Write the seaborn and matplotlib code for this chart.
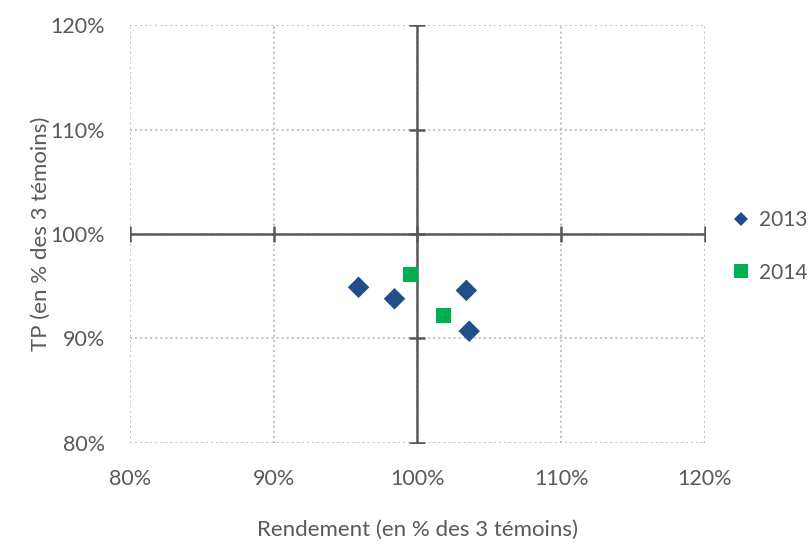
import pandas as pd
import matplotlib.pyplot as plt
import seaborn as sns
import numpy as np
from matplotlib.ticker import PercentFormatter

# values (in % of the 3 controls)
rend_2013 = [95.9, 98.4, 103.4, 103.6]
tp_2013 = [94.9, 93.8, 94.6, 90.7]
rend_2014 = [99.5, 101.8]
tp_2014 = [96.1, 92.2]
ticks = [80, 90, 100, 110, 120]

df = pd.DataFrame({
    "rendement": rend_2013 + rend_2014,
    "tp": tp_2013 + tp_2014,
    "annee": ["2013"] * len(rend_2013) + ["2014"] * len(rend_2014),
})

sns.set_theme(style="white")
plt.rcParams["font.family"] = ["Lato", "DejaVu Sans"]
grey = "#595959"

fig = plt.figure(figsize=(8.09, 5.44), dpi=100)
ax = fig.add_axes([0.1607, 0.1857, 0.7107, 0.7683])

# dotted grid
for t in ticks:
    ax.axhline(t, color="#bfbfbf", lw=1.4, ls=(0, (1, 1.6)), zorder=0)
    ax.axvline(t, color="#bfbfbf", lw=1.4, ls=(0, (1, 1.6)), zorder=0)

# axes crossing at 100%
ax.axhline(100, color="#595959", lw=1.8, zorder=1)
ax.axvline(100, color="#595959", lw=1.8, zorder=1)
ax.plot(ticks, [100] * len(ticks), ls="none", marker="|", ms=12, mew=1.8, color="#595959", zorder=1)
ax.plot([100] * len(ticks), ticks, ls="none", marker="_", ms=12, mew=1.8, color="#595959", zorder=1)

sns.scatterplot(
    data=df, x="rendement", y="tp", hue="annee", style="annee",
    palette={"2013": "#1f4e89", "2014": "#00b050"},
    markers={"2013": "D", "2014": "s"},
    s=120, linewidth=0, ax=ax, zorder=3,
)

ax.set_xlim(80, 120)
ax.set_ylim(80, 120)
ax.set_xticks(ticks)
ax.set_yticks(ticks)
ax.xaxis.set_major_formatter(PercentFormatter(decimals=0))
ax.yaxis.set_major_formatter(PercentFormatter(decimals=0))
ax.tick_params(axis="both", length=0, labelsize=15.5, labelcolor=grey)
ax.tick_params(axis="x", pad=19)
ax.tick_params(axis="y", pad=18)
for s in ax.spines.values():
    s.set_visible(False)

ax.set_xlabel("Rendement (en % des 3 témoins)", fontsize=16, color=grey, labelpad=22)
ax.set_ylabel("TP (en % des 3 témoins)", fontsize=16, color=grey, labelpad=0)

leg = ax.legend(
    loc="center left", bbox_to_anchor=(1.02, 0.47), frameon=False,
    borderaxespad=0.3, fontsize=15, labelspacing=1.55, handletextpad=0.35,
    handlelength=1.0,
)
leg.legend_handles[0].set_markersize(7.5)
leg.legend_handles[1].set_markersize(10.5)
for txt in leg.get_texts():
    txt.set_color(grey)

fig.savefig("out.png", dpi=100)
